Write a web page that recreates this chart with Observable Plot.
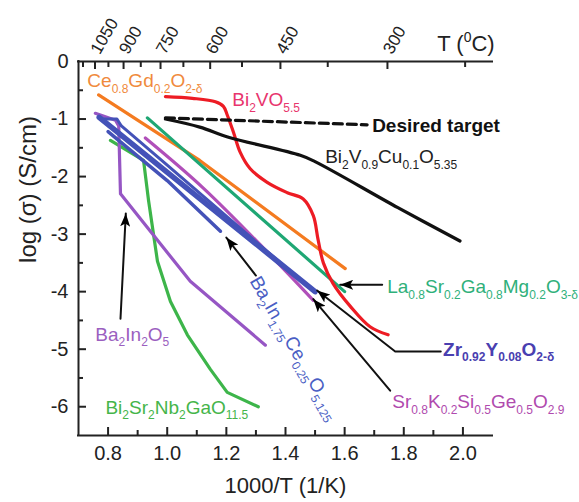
<!DOCTYPE html>
<html><head><meta charset="utf-8">
<script src="https://cdn.jsdelivr.net/npm/d3@7"></script>
<script src="https://cdn.jsdelivr.net/npm/@observablehq/plot@0.6"></script>
<style>body{margin:0;background:#fff}</style>
</head><body><div id="chart"></div>
<script>
// ---- axes ----
const xDomain = [0.7, 2.1];
const yDomain = [-6.5, 0];
const xMajor = [0.8, 1.0, 1.2, 1.4, 1.6, 1.8, 2.0];
const xMinor = [0.9, 1.1, 1.3, 1.5, 1.7, 1.9];
const yMajor = [-1, -2, -3, -4, -5, -6];
const yMinor = [-0.5, -1.5, -2.5, -3.5, -4.5, -5.5];
const yLabels = [0, -1, -2, -3, -4, -5, -6];
const tempMajor = [1050, 900, 750, 600, 450, 300];
const tempMinor = [1125, 975, 825, 675, 525, 375, 225];

// ---- series ----
const cgoX = [0.768, 1.11, 1.602];
const cgoY = [-0.58, -1.72, -3.6];
const bvoX = [0.994, 1.085, 1.163, 1.19, 1.203, 1.224, 1.247, 1.28, 1.338, 1.406, 1.46, 1.494, 1.51, 1.528, 1.561, 1.62, 1.686, 1.747];
const bvoY = [-0.61, -0.64, -0.7, -0.78, -0.93, -1.23, -1.58, -1.86, -2.1, -2.28, -2.39, -2.68, -3.09, -3.5, -3.86, -4.26, -4.61, -4.75];
const bvcuX = [0.994, 1.11, 1.21, 1.45, 1.5, 1.78, 1.99];
const bvcuY = [-1.0, -1.14, -1.32, -1.63, -1.74, -2.54, -3.12];
const targetX = [0.994, 1.676];
const targetY = [-0.98, -1.1];
const lsgmX = [0.933, 1.6];
const lsgmY = [-0.98, -4.0];
const bsngX = [0.808, 0.92, 0.937, 0.967, 1.011, 1.068, 1.146, 1.203, 1.308];
const bsngY = [-1.37, -1.72, -2.42, -3.47, -4.17, -4.75, -5.35, -5.75, -6.0];
const bioX = [0.757, 0.825, 0.836, 0.842, 1.078, 1.332];
const bioY = [-0.9, -1.02, -1.12, -2.3, -3.82, -4.93];
const skX = [0.926, 1.122, 1.359, 1.494];
const skY = [-1.33, -2.2, -3.42, -4.15];
const zrX = [0.77, 1.5];
const zrY = [-0.97, -4.0];
const zr2X = [0.775, 0.83, 0.845, 1.0, 1.45];
const zr2Y = [-1.0, -1.0, -1.12, -1.8, -3.8];
const bicoX = [0.8, 1.0, 1.18];
const bicoY = [-1.22, -2.07, -2.95];

// ---- arrows (tail ... tip) ----
const arrowBIO = [[0.842, -4.47], [0.86, -2.64]];
const arrowBICO = [[1.30, -3.72], [1.2, -3.06]];
const arrowLSGM = [[1.727, -3.88], [1.585, -3.88]];
const arrowZr = [[1.925, -5.04], [1.771, -5.04], [1.507, -3.98]];
const arrowSK = [[1.754, -5.72], [1.494, -4.13]];

// ---- labels ----
const labelText = ["Ce_{0.8}Gd_{0.2}O_{2-δ}", "Bi_{2}VO_{5.5}", "Desired target", "Bi_{2}V_{0.9}Cu_{0.1}O_{5.35}",
  "La_{0.8}Sr_{0.2}Ga_{0.8}Mg_{0.2}O_{3-δ}", "Zr_{0.92}Y_{0.08}O_{2-δ}", "Sr_{0.8}K_{0.2}Si_{0.5}Ge_{0.5}O_{2.9}",
  "Ba_{2}In_{2}O_{5}", "Bi_{2}Sr_{2}Nb_{2}GaO_{11.5}"];
const labelX = [0.730, 1.220, 1.693, 1.534, 1.744, 1.933, 1.761, 0.757, 0.791];
const labelY = [-0.45, -0.78, -1.22, -1.77, -4.02, -5.11, -6.02, -4.85, -6.12];
const labelColor = ["#f08a3c", "#e8356d", "#111111", "#222222", "#2fb07a", "#4a3fb0", "#b04aae", "#9b5fc0", "#45b54a"];
const labelBold = [false, false, true, false, false, true, false, false, false];
const rotLabel = ["Ba_{2}In_{1.75}Ce_{0.25}O_{5.125}"];
const rotX = [1.295];
const rotY = [-3.76];

const toRows = (xs, ys) => xs.map((x, i) => ({x, y: ys[i]}));
const arrowRows = [arrowBIO, arrowBICO, arrowLSGM, arrowZr, arrowSK]
  .flatMap((pts, id) => pts.map(([x, y]) => ({id, x, y})));
const labels = labelText.map((t, i) => ({t, x: labelX[i], y: labelY[i], c: labelColor[i], b: labelBold[i]}));
const tPos = T => 1000 / (T + 273.15);

const NS = "http://www.w3.org/2000/svg";
function arrowHead(color, context) {
  const doc = (context && context.document) || document;
  const m = doc.createElementNS(NS, "marker");
  m.setAttribute("viewBox", "-13 -5 13 10");
  m.setAttribute("markerWidth", 13);
  m.setAttribute("markerHeight", 10);
  m.setAttribute("markerUnits", "userSpaceOnUse");
  m.setAttribute("orient", "auto");
  m.setAttribute("fill", "#000");
  m.setAttribute("stroke", "none");
  const p = doc.createElementNS(NS, "path");
  p.setAttribute("d", "M0,0L-13,-5L-10,0L-13,5Z");
  m.appendChild(p);
  return m;
}

const H = 502 - 61 - 67, W = 579 - 78 - 87;
const lw = 3.2;
const chart = Plot.plot({
  width: 579, height: 502,
  marginTop: 61, marginBottom: 67, marginLeft: 78, marginRight: 87,
  x: {domain: xDomain, axis: null},
  y: {domain: yDomain, axis: null},
  style: {fontFamily: "'Liberation Sans', Arial, sans-serif", background: "white", color: "#222"},
  marks: [
    // frame (no right side)
    Plot.ruleY([yDomain[0]], {stroke: "#222", strokeWidth: 2, strokeLinecap: "square"}),
    Plot.ruleY([yDomain[1]], {stroke: "#222", strokeWidth: 2, strokeLinecap: "square"}),
    Plot.ruleX([xDomain[0]], {stroke: "#222", strokeWidth: 2, strokeLinecap: "square"}),
    // ticks (inward)
    Plot.tickX(xMajor, {x: d => d, insetTop: H - 8, stroke: "#222", strokeWidth: 2}),
    Plot.tickX(xMinor, {x: d => d, insetTop: H - 5, stroke: "#222", strokeWidth: 2}),
    Plot.tickY(yMajor, {y: d => d, insetRight: W - 8, stroke: "#222", strokeWidth: 2}),
    Plot.tickY(yMinor, {y: d => d, insetRight: W - 5, stroke: "#222", strokeWidth: 2}),
    Plot.tickX(tempMajor, {x: tPos, insetBottom: H - 8, stroke: "#222", strokeWidth: 2}),
    Plot.tickX(tempMinor, {x: tPos, insetBottom: H - 6, stroke: "#222", strokeWidth: 2}),
    // tick labels
    Plot.text(xMajor, {x: d => d, frameAnchor: "bottom", dy: 10, lineAnchor: "top", text: d => d.toFixed(1), fontSize: 20, fill: "#222"}),
    Plot.text(yLabels, {y: d => d, frameAnchor: "left", dx: -10, textAnchor: "end", text: d => String(d), fontSize: 20, fill: "#222"}),
    Plot.text(tempMajor, {x: tPos, frameAnchor: "top", dy: -9, rotate: -60, textAnchor: "start", lineAnchor: "middle", text: d => String(d), fontSize: 17, fill: "#222"}),
    Plot.text(["T (^{0}C)"], {x: 1.913, frameAnchor: "top", dy: -11, lineAnchor: "bottom", textAnchor: "start", text: d => d, fontSize: 22, fill: "#222"}),
    Plot.text(["1000/T (1/K)"], {x: 1.4, frameAnchor: "bottom", dy: 57, lineAnchor: "bottom", text: d => d, fontSize: 22, fill: "#222"}),
    Plot.text(["log (σ) (S/cm)"], {y: -3.5, frameAnchor: "left", dx: -50, rotate: -90, lineAnchor: "middle", text: d => d, fontSize: 24, fill: "#222"}),
    // data lines
    Plot.line(toRows(cgoX, cgoY), {x: "x", y: "y", stroke: "#f47b20", strokeWidth: lw, strokeLinecap: "round"}),
    Plot.line(toRows(lsgmX, lsgmY), {x: "x", y: "y", stroke: "#1fa774", strokeWidth: lw, strokeLinecap: "round"}),
    Plot.line(toRows(bsngX, bsngY), {x: "x", y: "y", stroke: "#3db54a", strokeWidth: lw, strokeLinecap: "round", strokeLinejoin: "round"}),
    Plot.line(toRows(bioX, bioY), {x: "x", y: "y", stroke: "#9656c4", strokeWidth: lw, strokeLinecap: "round", strokeLinejoin: "round"}),
    Plot.line(toRows(skX, skY), {x: "x", y: "y", stroke: "#b04fb9", strokeWidth: lw, curve: "catmull-rom", strokeLinecap: "round"}),
    Plot.line(toRows(zr2X, zr2Y), {x: "x", y: "y", stroke: "#4452b8", strokeWidth: 3, strokeLinecap: "round", strokeLinejoin: "round"}),
    Plot.line(toRows(zrX, zrY), {x: "x", y: "y", stroke: "#4452b8", strokeWidth: 5.5, strokeLinecap: "round"}),
    Plot.line(toRows(bicoX, bicoY), {x: "x", y: "y", stroke: "#4452b8", strokeWidth: 3.5, strokeLinecap: "round"}),
    Plot.line(toRows(bvoX, bvoY), {x: "x", y: "y", stroke: "#ed1c24", strokeWidth: lw, curve: "catmull-rom", strokeLinecap: "round"}),
    Plot.line(toRows(bvcuX, bvcuY), {x: "x", y: "y", stroke: "#111", strokeWidth: lw, curve: "catmull-rom", strokeLinecap: "round"}),
    Plot.line(toRows(targetX, targetY), {x: "x", y: "y", stroke: "#111", strokeWidth: lw, strokeDasharray: "9,5"}),
    // arrows
    Plot.line(arrowRows, {x: "x", y: "y", z: "id", stroke: "#111", strokeWidth: 2, markerEnd: arrowHead}),
    // labels
    Plot.text(labels.filter(d => !d.b), {x: "x", y: "y", text: "t", fill: "c", textAnchor: "start", lineAnchor: "bottom", fontSize: 19}),
    Plot.text(labels.filter(d => d.b), {x: "x", y: "y", text: "t", fill: "c", fontWeight: "bold", textAnchor: "start", lineAnchor: "bottom", fontSize: 19}),
    Plot.text(rotLabel, {x: rotX[0], y: rotY[0], text: d => d, fill: "#4a5ec4", rotate: 60, textAnchor: "start", lineAnchor: "middle", fontSize: 19})
  ]
});
document.getElementById("chart").appendChild(chart);

// subscripts / superscripts
chart.querySelectorAll("text").forEach(t => {
  const s = t.textContent;
  if (!/[_^]\{/.test(s)) return;
  const fs = parseFloat(getComputedStyle(t).fontSize) || 19;
  while (t.firstChild) t.removeChild(t.firstChild);
  const re = /([_^])\{([^}]*)\}|([^_^]+)/g;
  let m, shift = 0;
  while ((m = re.exec(s))) {
    const sp = document.createElementNS(NS, "tspan");
    let target = 0;
    if (m[1]) {
      target = m[1] === "_" ? 0.3 * fs : -0.4 * fs;
      sp.setAttribute("font-size", (0.63 * fs).toFixed(1) + "px");
      sp.textContent = m[2];
    } else {
      sp.textContent = m[3];
    }
    const d = target - shift;
    if (d) sp.setAttribute("dy", d.toFixed(1));
    shift = target;
    t.appendChild(sp);
  }
});
</script></body></html>
